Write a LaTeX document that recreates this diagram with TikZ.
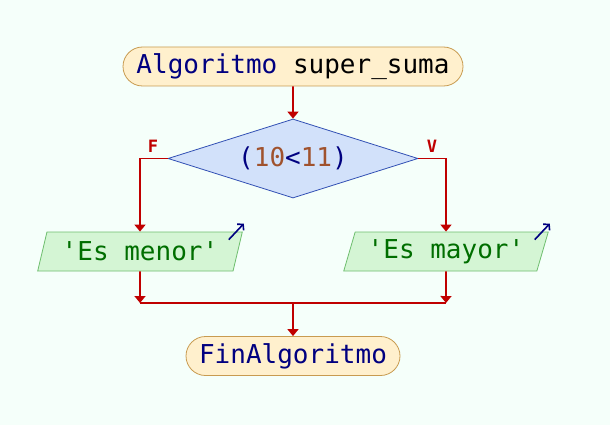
\documentclass[tikz,border=0pt]{standalone}
\usepackage{fontspec}
\setmonofont{DejaVu Sans Mono}
\usepackage{tikz}
\usetikzlibrary{arrows.meta}
\usetikzlibrary{positioning}
\usetikzlibrary{shapes.geometric}
\usetikzlibrary{shapes.misc}

\definecolor{bgmint}{RGB}{245,255,250}
\definecolor{kwnavy}{RGB}{0,0,128}
\definecolor{numbrown}{RGB}{160,82,45}
\definecolor{strgreen}{RGB}{0,110,0}
\definecolor{flowred}{RGB}{192,0,0}
\definecolor{termfill}{RGB}{255,240,205}
\definecolor{termline}{RGB}{200,155,80}
\definecolor{decfill}{RGB}{210,225,250}
\definecolor{decline}{RGB}{50,80,180}
\definecolor{outfill}{RGB}{212,245,212}
\definecolor{outline}{RGB}{110,190,110}

\newcommand{\sq}{\symbol{39}}

\begin{document}
\begin{tikzpicture}[x=1pt,y=-1pt,
    every node/.style={font=\ttfamily\fontsize{26}{30}\selectfont, inner sep=0pt},
    terminal/.style={rounded rectangle, draw=termline, fill=termfill, line width=0.8pt, minimum height=39pt},
    decision/.style={diamond, aspect=3.16, draw=decline, fill=decfill, line width=0.8pt, minimum width=250pt, minimum height=79pt},
    output/.style={trapezium, trapezium left angle=68, trapezium right angle=112, trapezium stretches=true,
        draw=outline, fill=outfill, line width=0.8pt, minimum width=205pt, minimum height=39pt},
    flowline/.style={draw=flowred, line width=1.6pt},
    flow/.style={flowline, -{Triangle[length=7pt,width=11pt]}},
    branchlbl/.style={text=flowred, font=\ttfamily\bfseries\fontsize{17}{20}\selectfont},
    outarrow/.style={draw=kwnavy, line width=1.6pt, -{Straight Barb[length=4pt,width=9pt]}}]
    \fill[bgmint] (0,0) rectangle (610,425);
    \useasboundingbox (0,0) rectangle (610,425);
    \node[terminal, minimum width=340pt] (start) at (293,66.5) {{\color{kwnavy}Algoritmo} super\_suma};
    \node[decision] (cond) at (293,158.5) {{\color{kwnavy}(}{\color{numbrown}10}{\color{kwnavy}<}{\color{numbrown}11}{\color{kwnavy})}};
    \node[output] (outL) at (140,251.5) {\color{strgreen}\sq Es menor\sq};
    \node[output] (outR) at (446,251.5) {\color{strgreen}\sq Es mayor\sq};
    \node[terminal, minimum width=214pt] (finish) at (293,356) {\color{kwnavy}FinAlgoritmo};
    \node[branchlbl] (lblF) at (153,146) {F};
    \node[branchlbl] (lblV) at (432,146) {V};
    \coordinate (joinL) at (140,303);
    \coordinate (joinR) at (446,303);
    \coordinate (join) at (293,303);
    \draw[flow] (start) -- (cond);
    \draw[flow] (cond.west) -| (outL.north);
    \draw[flow] (cond.east) -| (outR.north);
    \draw[flow] (outL.south) -- (joinL);
    \draw[flow] (outR.south) -- (joinR);
    \draw[flowline] (joinL) -- (joinR);
    \draw[flow] (join) -- (finish);
    \draw[outarrow] ([shift={(-14,8)}]outL.top right corner) -- ++(15,-16);
    \draw[outarrow] ([shift={(-14,8)}]outR.top right corner) -- ++(15,-16);
\end{tikzpicture}
\end{document}
